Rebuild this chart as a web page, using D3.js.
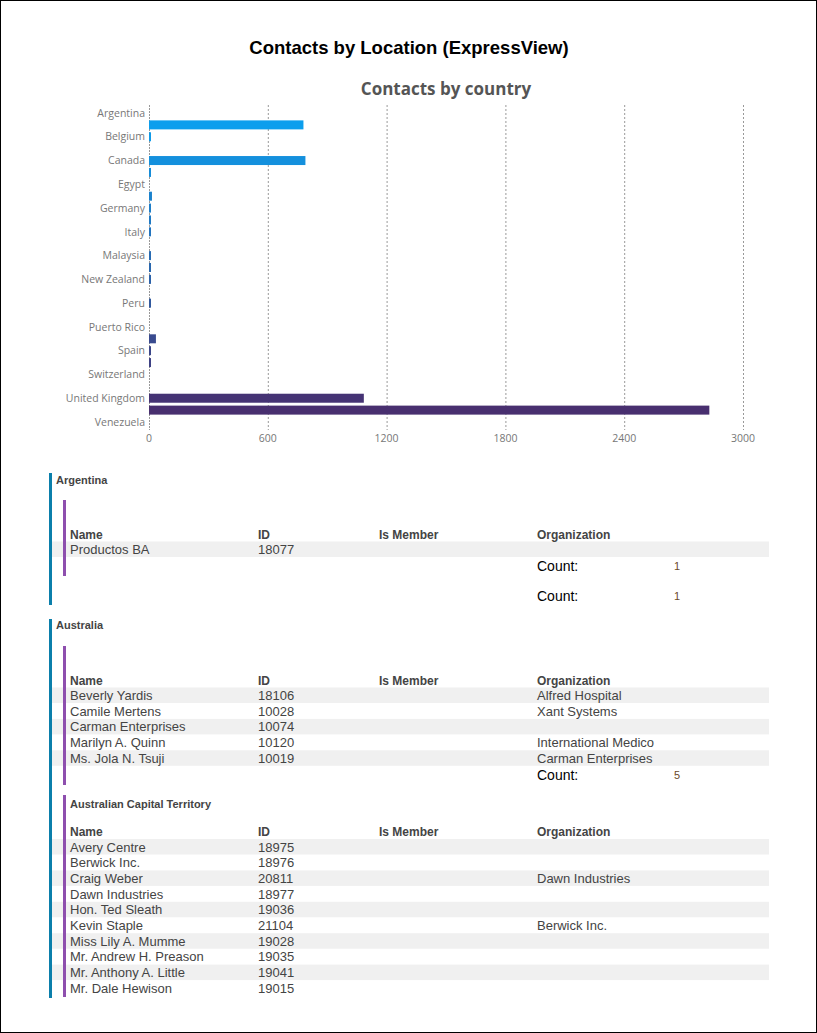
<!DOCTYPE html>
<html><head><meta charset="utf-8">
<script src="https://cdn.jsdelivr.net/npm/d3@7"></script>
<style>body{margin:0;background:#fff}svg{display:block}</style>
</head><body>
<svg id="page" width="817" height="1033"></svg>
<script>
// chart data: every other country label is hidden by the axis
var countries = ["Argentina","Australia","Belgium","Brazil","Canada","Colombia","Egypt","France","Germany","India","Italy","Japan","Malaysia","Mexico","New Zealand","Norway","Peru","Poland","Puerto Rico","Singapore","Spain","Sweden","Switzerland","United Arab Emirates","United Kingdom","United States","Venezuela"];
var contacts = [0,780,3,0,790,3,0,15,6,10,3,0,8,3,10,0,8,0,0,35,3,4,0,0,1085,2830,0];
var xTicks = [0,600,1200,1800,2400,3000];

// report tables
var colNames = ["Name","ID","Is Member","Organization"];
var argentinaRows = [["Productos BA","18077",""]];
var australiaRows = [["Beverly Yardis","18106","Alfred Hospital"],["Camile Mertens","10028","Xant Systems"],["Carman Enterprises","10074",""],["Marilyn A. Quinn","10120","International Medico"],["Ms. Jola N. Tsuji","10019","Carman Enterprises"]];
var actRows = [["Avery Centre","18975",""],["Berwick Inc.","18976",""],["Craig Weber","20811","Dawn Industries"],["Dawn Industries","18977",""],["Hon. Ted Sleath","19036",""],["Kevin Staple","21104","Berwick Inc."],["Miss Lily A. Mumme","19028",""],["Mr. Andrew H. Preason","19035",""],["Mr. Anthony A. Little","19041",""],["Mr. Dale Hewison","19015",""]];

var svg = d3.select("#page");
svg.append("rect").attr("x",0.5).attr("y",0.5).attr("width",816).attr("height",1032)
  .attr("fill","none").attr("stroke","#000");
svg.append("text").attr("x",409).attr("y",54).attr("text-anchor","middle")
  .attr("font-family","Arial, Liberation Sans").attr("font-weight","bold").attr("font-size",18.5)
  .text("Contacts by Location (ExpressView)");
svg.append("text").attr("x",446).attr("y",95).attr("text-anchor","middle")
  .attr("font-family","Open Sans").attr("font-weight","bold").attr("font-size",17).attr("fill","#555")
  .text("Contacts by country");

var x = d3.scaleLinear().domain([0,3000]).range([149,743]);
var y = d3.scalePoint().domain(countries).range([113,422]);
var color = d3.scaleSequential(d3.interpolateRgb("#0aa3f2","#4a2a6a")).domain([0,countries.length-1]);

var g = svg.append("g").attr("font-family","Open Sans");
g.selectAll("line.grid").data(xTicks.slice(1)).join("line")
  .attr("x1",function(d){return x(d)+0.5}).attr("x2",function(d){return x(d)+0.5})
  .attr("y1",105).attr("y2",430).attr("stroke","#999").attr("stroke-dasharray","2,2");
g.append("line").attr("x1",149.5).attr("x2",149.5).attr("y1",105).attr("y2",430)
  .attr("stroke","#999").attr("stroke-dasharray","2,1");
g.selectAll("text.tick").data(xTicks).join("text")
  .attr("x",function(d){return x(d)}).attr("y",442).attr("text-anchor","middle")
  .attr("font-size",10.5).attr("fill","#777").text(function(d){return d});
g.selectAll("text.lab").data(countries.filter(function(d,i){return i%2===0})).join("text")
  .attr("x",145).attr("y",function(d){return y(d)}).attr("dy","0.35em").attr("text-anchor","end")
  .attr("font-size",10.5).attr("fill","#777").text(function(d){return d});
g.selectAll("rect.bar").data(countries).join("rect")
  .attr("x",x(0)).attr("y",function(d){return y(d)-4.5}).attr("height",9)
  .attr("width",function(d,i){return contacts[i]>0?Math.max(x(contacts[i])-x(0),2):0})
  .attr("fill",function(d,i){return color(i)});

// report section
var cols = [70,258,379,537];
var shade = svg.append("g"), front = svg.append("g");
function vbar(x0,y0,y1,c){ front.append("rect").attr("x",x0).attr("y",y0).attr("width",3).attr("height",y1-y0).attr("fill",c); }
function label(txt,x0,yy,opts){
  var t = front.append("text").attr("x",x0).attr("y",yy).attr("font-family","Arial, Liberation Sans")
    .attr("font-size",opts.size||12.5).attr("fill",opts.fill||"#444");
  if(opts.bold) t.attr("font-weight","bold");
  return t.text(txt);
}
function table(hy,rows,y0){
  cols.forEach(function(cx,i){ label(colNames[i],cx,hy,{bold:true,size:12}); });
  rows.forEach(function(r,i){
    var ry = y0 + i*15.7;
    if(i%2===0) shade.append("rect").attr("x",49).attr("y",ry-7.5).attr("width",720).attr("height",15.5).attr("fill","#f0f0f0");
    label(r[0],cols[0],ry+5,{size:13,fill:"#444"});
    label(r[1],cols[1],ry+5,{size:13,fill:"#444"});
    label(r[2],cols[3],ry+5,{size:13,fill:"#444"});
  });
}
function count(yy,n){
  label("Count:",537,yy,{size:14,fill:"#000"});
  label(n,674,yy-1,{size:11,fill:"#6b4a2a"});
}

vbar(49,473,605,"#0b7fab"); vbar(49,619,998,"#0b7fab");
vbar(63,500,576,"#8e4fae"); vbar(63,646,785,"#8e4fae"); vbar(63,795,997,"#8e4fae");

label("Argentina",56,484,{bold:true,size:11});
table(539,argentinaRows,549);
count(571,"1"); count(601,"1");

label("Australia",56,629,{bold:true,size:11});
table(685,australiaRows,695);
count(780,"5");

label("Australian Capital Territory",70,808,{bold:true,size:11});
table(836,actRows,846.5);
</script>
</body></html>
